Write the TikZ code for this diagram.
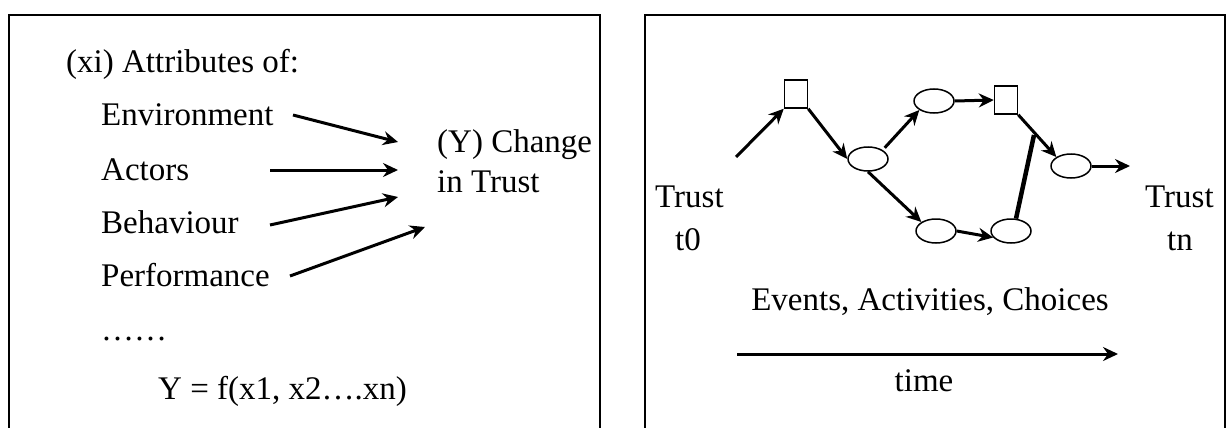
\documentclass[tikz,border=0pt]{standalone}
\usepackage{fontspec}
\setmainfont{Liberation Serif}
\usetikzlibrary{arrows.meta,shapes.geometric}
\begin{document}
\begin{tikzpicture}[x=1pt,y=-1pt,
  txt/.style={inner sep=0pt,anchor=base west,font=\fontsize{33}{38}\selectfont},
  arr/.style={line width=3pt,-{Stealth[length=15pt,width=14pt,inset=5pt]}},
  ell/.style={draw,line width=1.5pt,ellipse,minimum width=40pt,minimum height=24pt,inner sep=0pt},
  sq/.style={draw,line width=1.5pt,rectangle,minimum width=23pt,minimum height=28pt,inner sep=0pt},
  frame/.style={line width=1.8pt}]
\useasboundingbox (0,0) rectangle (1228,428);
% frames
\draw[frame] (9,432) -- (9,15) -- (600,15) -- (600,432);
\draw[frame] (645,432) -- (645,15) -- (1225,15) -- (1225,432);
% left panel
\node[txt] (attr) at (66,72) {(xi) Attributes of:};
\node[txt] (env) at (101,125) {Environment};
\node[txt] (act) at (101,180) {Actors};
\node[txt] (beh) at (101,233) {Behaviour};
\node[txt] (perf) at (101,286) {Performance};
\node[txt] (dots) at (101,340) {\textellipsis\textellipsis};
\node[txt] (eq) at (158,399) {Y = f(x1, x2\textellipsis.xn)};
\node[txt] (y1) at (437,152) {(Y) Change};
\node[txt] (y2) at (437,192) {in Trust};
\coordinate (e1) at (293,115);
\coordinate (e2) at (398,142);
\coordinate (a1) at (270,170);
\coordinate (a2) at (398,170);
\coordinate (b1) at (270,225);
\coordinate (b2) at (398,197);
\coordinate (p1) at (290,276);
\coordinate (p2) at (425,227);
\draw[arr] (e1) -- (e2);
\draw[arr] (a1) -- (a2);
\draw[arr] (b1) -- (b2);
\draw[arr] (p1) -- (p2);
% right panel
\node[sq] (s1) at (796,94) {};
\node[sq] (s2) at (1006,100) {};
\node[ell] (A) at (868,159) {};
\node[ell] (B) at (934,101) {};
\node[ell] (C) at (1071,166) {};
\node[ell] (D) at (936,231) {};
\node[ell] (E) at (1011,231) {};
\coordinate (start) at (736,157);
\coordinate (finish) at (1130,166);
\coordinate (jn) at (1034,135);
\draw[arr] (start) -- (s1.south west);
\draw[arr] (s1.south east) -- (A.west);
\draw[arr,shorten <=3pt] (A.north east) -- (B.south west);
\draw[arr] (B.east) -- (s2.west);
\draw[arr] (s2.south east) -- (C.north west);
\draw[arr] (C.east) -- (finish);
\draw[arr] (A.south) -- (D.north west);
\draw[arr] (D.east) -- (E.200);
\draw[line width=4.5pt] (E.68) -- (jn);
\node[txt] (tr0) at (655,207) {Trust};
\node[txt,anchor=base] (t0) at (688,250) {t0};
\node[txt] (trn) at (1145,207) {Trust};
\node[txt,anchor=base] (tn) at (1180,250) {tn};
\node[txt,anchor=base] (ev) at (930,310) {Events, Activities, Choices};
\coordinate (ts) at (737,354);
\coordinate (te) at (1118,354);
\draw[arr] (ts) -- (te);
\node[txt,anchor=base] (time) at (924,391) {time};
\end{tikzpicture}
\end{document}
